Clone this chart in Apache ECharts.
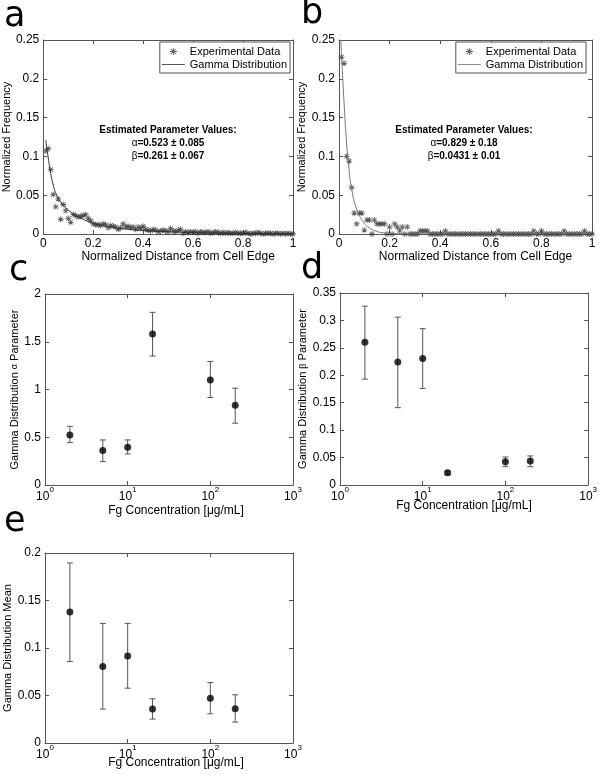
<!DOCTYPE html>
<html><head><meta charset="utf-8">
<script src="https://cdn.jsdelivr.net/npm/echarts@6/dist/echarts.min.js"></script>
<style>html,body{margin:0;padding:0;background:#fff}#c{width:600px;height:777px}</style>
</head><body><div id="c"></div>
<script>
// ---------- DATA ----------
const distX = [0.01,0.02,0.03,0.04,0.05,0.06,0.07,0.08,0.09,0.10,
0.11,0.12,0.13,0.14,0.15,0.16,0.17,0.18,0.19,0.20,
0.21,0.22,0.23,0.24,0.25,0.26,0.27,0.28,0.29,0.30,
0.31,0.32,0.33,0.34,0.35,0.36,0.37,0.38,0.39,0.40,
0.41,0.42,0.43,0.44,0.45,0.46,0.47,0.48,0.49,0.50,
0.51,0.52,0.53,0.54,0.55,0.56,0.57,0.58,0.59,0.60,
0.61,0.62,0.63,0.64,0.65,0.66,0.67,0.68,0.69,0.70,
0.71,0.72,0.73,0.74,0.75,0.76,0.77,0.78,0.79,0.80,
0.81,0.82,0.83,0.84,0.85,0.86,0.87,0.88,0.89,0.90,
0.91,0.92,0.93,0.94,0.95,0.96,0.97,0.98,0.99,1.00];

const expA = [0.107,0.110,0.083,0.051,0.035,0.045,0.019,0.038,0.030,0.020,
0.015,0.025,0.024,0.022,0.023,0.024,0.025,0.020,0.017,0.013,
0.012,0.012,0.011,0.013,0.012,0.008,0.011,0.010,0.009,0.006,
0.008,0.013,0.009,0.010,0.008,0.009,0.006,0.009,0.007,0.010,
0.006,0.005,0.004,0.006,0.005,0.003,0.004,0.005,0.004,0.003,
0.007,0.004,0.003,0.005,0.006,0.001,0.003,0.002,0.003,0.002,
0.003,0.001,0.003,0.002,0.002,0.003,0.001,0.002,0.003,0.002,
0.001,0.002,0.001,0.002,0.001,0.001,0.002,0.001,0.001,0.001,
0.002,0.001,0.000,0.001,0.001,0.002,0.001,0.000,0.001,0.001,
0.001,0.000,0.001,0.001,0.000,0.001,0.000,0.001,0.000,0.000];

const expB = [0.228,0.220,0.100,0.094,0.060,0.027,0.013,0.027,0.027,0.005,
0.018,0.018,0.000,0.018,0.013,0.013,0.013,0.013,0.000,0.009,
0.000,0.013,0.009,0.004,0.009,0.000,0.009,0.000,0.000,0.000,
0.000,0.004,0.004,0.004,0.004,0.000,0.000,0.000,0.000,0.000,
0.000,0.004,0.000,0.000,0.000,0.000,0.000,0.000,0.000,0.000,
0.000,0.000,0.000,0.000,0.000,0.000,0.000,0.000,0.000,0.000,
0.000,0.000,0.004,0.000,0.000,0.000,0.000,0.000,0.000,0.000,
0.000,0.000,0.000,0.000,0.000,0.000,0.004,0.000,0.000,0.004,
0.000,0.000,0.000,0.000,0.000,0.000,0.000,0.000,0.004,0.000,
0.000,0.000,0.000,0.000,0.000,0.000,0.004,0.000,0.000,0.000];

const fitAx = [0.01,0.02,0.03,0.04,0.05,0.07,0.10,0.13,0.16,0.20,0.25,0.30,0.40,0.50,0.60,0.70,0.80,0.90,1.00];
const fitAy = [0.121,0.098,0.078,0.063,0.053,0.041,0.031,0.024,0.019,0.014,0.010,0.0075,0.0045,0.0028,0.0017,0.0011,0.0007,0.0004,0.0003];
const fitBx = [0.007,0.013,0.020,0.028,0.037,0.050,0.070,0.097,0.120,0.143,0.170,0.200,0.300,0.500,1.000];
const fitBy = [0.250,0.212,0.169,0.126,0.092,0.058,0.032,0.015,0.008,0.004,0.0018,0.0007,0.0001,0.0,0.0];

const conc = [2,5,10,20,100,200];
const alphaMean = [0.524,0.360,0.395,1.580,1.100,0.836];
const alphaLow  = [0.444,0.245,0.325,1.350,0.916,0.647];
const alphaHigh = [0.615,0.472,0.472,1.808,1.294,1.014];
const betaMean = [0.260,0.224,0.2305,0.0224,0.0425,0.0437];
const betaLow  = [0.193,0.141,0.176,0.019,0.0334,0.0334];
const betaHigh = [0.326,0.306,0.285,0.0255,0.051,0.053];
const meanMean = [0.1378,0.0804,0.0916,0.0357,0.0472,0.0360];
const meanLow  = [0.0857,0.0357,0.0577,0.0252,0.0308,0.0220];
const meanHigh = [0.1895,0.1259,0.1259,0.0465,0.0636,0.0507];

const legendNames = ['Experimental Data','Gamma Distribution'];
const paramA = ['0.523 \u00b1 0.085','0.261 \u00b1 0.067'];
const paramB = ['0.829 \u00b1 0.18','0.0431 \u00b1 0.01'];

// ---------- CHART ----------
const FF = 'Liberation Sans, Arial, sans-serif';
const AX = '#555';
const STAR = 'path://M4.35,0H5.65V10H4.35Z M0,4.35H10V5.65H0Z M1.8,0.9L9.1,8.2L8.2,9.1L0.9,1.8Z M8.2,0.9L9.1,1.8L1.8,9.1L0.9,8.2Z';
const LINEICON = 'path://M0,0H40V1.4H0Z';

const grids = [
  {left:43, top:40, width:250, height:194},
  {left:339, top:40, width:253, height:194},
  {left:45, top:294, width:248, height:191},
  {left:340, top:293, width:250, height:192},
  {left:45, top:553, width:248, height:190}
];

function baseAxis(g, pos, showLabel){
  return {
    gridIndex:g, position:pos,
    axisLine:{show:true, onZero:false, lineStyle:{color:AX, width:1}},
    axisTick:{show:true, inside:true, length:4, lineStyle:{color:AX}},
    splitLine:{show:false},
    axisLabel:{show:showLabel, color:'#000', fontSize:12, fontFamily:FF, margin:4},
    nameLocation:'middle',
    nameTextStyle:{color:'#000', fontFamily:FF, fontSize:12}
  };
}
function xLin(g, pos, name, gap, shift){
  const a = baseAxis(g, pos, pos==='bottom');
  Object.assign(a, {type:'value', min:0, max:1, interval:0.2});
  if(pos==='bottom'){ a.name = name; a.nameGap = gap; a.nameTextStyle.padding = [0,0,0,shift]; }
  return a;
}
function xLog(g, pos, name, gap, shift, noMove){
  const a = baseAxis(g, pos, pos==='bottom');
  Object.assign(a, {type:'log', logBase:10, min:1, max:1000});
  a.axisLabel.margin = 1;
  a.axisLabel.formatter = v => '{b|10}{s|' + Math.round(Math.log10(v)) + '}';
  a.axisLabel.rich = {
    b:{fontSize:12, fontFamily:FF, color:'#000', verticalAlign:'bottom', lineHeight:17},
    s:{fontSize:8, fontFamily:FF, color:'#000', verticalAlign:'top', lineHeight:10}
  };
  if(pos==='bottom'){
    a.name = name; a.nameGap = gap; a.nameTextStyle.padding = [0,0,0,shift];
    if(noMove) a.nameMoveOverlap = false;
  }
  return a;
}
function yAx(g, pos, max, interval, name, gap){
  const a = baseAxis(g, pos, pos==='left');
  Object.assign(a, {type:'value', min:0, max:max, interval:interval});
  if(pos==='left'){
    a.name = name; a.nameGap = gap; a.nameRotate = 90;
    a.nameTextStyle = {color:'#000', fontFamily:FF, fontSize:11, rich:{s:{fontSize:9, fontFamily:FF, color:'#000'}}};
  }
  return a;
}

const xName1 = 'Normalized Distance from Cell Edge';
const xName2 = 'Fg Concentration [\u03bcg/mL]';

const xAxis = [
  xLin(0,'bottom',xName1,15,20), xLin(0,'top'),
  xLin(1,'bottom',xName1,15,20), xLin(1,'top'),
  xLog(2,'bottom',xName2,20,14,true), xLog(2,'top'),
  xLog(3,'bottom',xName2,15,0,true), xLog(3,'top'),
  xLog(4,'bottom',xName2,14,14,true), xLog(4,'top')
];
const yAxis = [
  yAx(0,'left',0.25,0.05,'Normalized Frequency',30), yAx(0,'right',0.25,0.05),
  yAx(1,'left',0.25,0.05,'Normalized Frequency',27), yAx(1,'right',0.25,0.05),
  yAx(2,'left',2,0.5,'Gamma Distribution {s|\u03b1} Parameter',22), yAx(2,'right',2,0.5),
  yAx(3,'left',0.35,0.05,'Gamma Distribution {s|\u03b2} Parameter',28), yAx(3,'right',0.35,0.05),
  yAx(4,'left',0.2,0.05,'Gamma Distribution Mean',29), yAx(4,'right',0.2,0.05)
];

function errSeries(axIdx, mean, low, high){
  return [{
    type:'custom', xAxisIndex:axIdx, yAxisIndex:axIdx,
    data: conc.map((c,i)=>[c, mean[i], low[i], high[i]]),
    encode:{x:0, y:[2,3]},
    renderItem:(params, api)=>{
      const top = api.coord([api.value(0), api.value(3)]);
      const bot = api.coord([api.value(0), api.value(2)]);
      const w = 3;
      const st = {stroke:'#555', lineWidth:1};
      return {type:'group', children:[
        {type:'line', shape:{x1:top[0], y1:top[1], x2:bot[0], y2:bot[1]}, style:st},
        {type:'line', shape:{x1:top[0]-w, y1:top[1], x2:top[0]+w, y2:top[1]}, style:st},
        {type:'line', shape:{x1:bot[0]-w, y1:bot[1], x2:bot[0]+w, y2:bot[1]}, style:st}
      ]};
    },
    z:2
  },{
    type:'scatter', xAxisIndex:axIdx, yAxisIndex:axIdx,
    data: conc.map((c,i)=>[c, mean[i]]),
    symbol:'circle', symbolSize:7, itemStyle:{color:'#000'}, z:3
  }];
}

const series = [
  {name:legendNames[0], type:'scatter', xAxisIndex:0, yAxisIndex:0, symbol:STAR, symbolSize:6,
   itemStyle:{color:'#333'}, data: distX.map((x,i)=>[x, expA[i]])},
  {name:legendNames[1], type:'line', xAxisIndex:0, yAxisIndex:0, symbol:'none', smooth:true,
   itemStyle:{color:'#333'}, lineStyle:{color:'#333', width:1}, data: fitAx.map((x,i)=>[x, fitAy[i]])},
  {name:legendNames[0], type:'scatter', xAxisIndex:2, yAxisIndex:2, symbol:STAR, symbolSize:6,
   itemStyle:{color:'#333'}, data: distX.map((x,i)=>[x, expB[i]])},
  {name:legendNames[1], type:'line', xAxisIndex:2, yAxisIndex:2, symbol:'none', smooth:true,
   itemStyle:{color:'#777'}, lineStyle:{color:'#777', width:1}, data: fitBx.map((x,i)=>[x, fitBy[i]])},
  ...errSeries(4, alphaMean, alphaLow, alphaHigh),
  ...errSeries(6, betaMean, betaLow, betaHigh),
  ...errSeries(8, meanMean, meanLow, meanHigh)
];

function legendAt(right, lineColor){
  return {
    orient:'vertical', right:right, top:42, padding:[4,3,3,2], itemGap:2,
    itemWidth:23, itemHeight:7, selectedMode:false,
    backgroundColor:'#fff', borderColor:AX, borderWidth:1, borderRadius:0,
    textStyle:{color:'#000', fontFamily:FF, fontSize:11},
    data:[
      {name:legendNames[0], icon:STAR, itemStyle:{color:'#333'}},
      {name:legendNames[1], icon:LINEICON, itemStyle:{color:lineColor}}
    ]
  };
}

function annot(cx, vals){
  const base = {fill:'#000', font:'bold 10px ' + FF, align:'center', verticalAlign:'middle'};
  return [
    {type:'text', x:cx, y:130, style:Object.assign({text:'Estimated Parameter Values:'}, base)},
    {type:'text', x:cx, y:143, style:Object.assign({text:'{n|\u03b1}=' + vals[0], rich:{n:{font:'10px ' + FF, fill:'#000'}}}, base)},
    {type:'text', x:cx, y:156, style:Object.assign({text:'{n|\u03b2}=' + vals[1], rich:{n:{font:'10px ' + FF, fill:'#000'}}}, base)}
  ];
}
function letter(t, x, y){
  return {type:'text', x:x, y:y, style:{text:t, fill:'#000', font:'35px DejaVu Sans', align:'left', verticalAlign:'middle'}};
}

const option = {
  animation:false,
  backgroundColor:'#fff',
  grid: grids.map(g=>Object.assign({show:false, containLabel:false}, g)),
  xAxis, yAxis, series,
  legend:[legendAt(310,'#333'), legendAt(14,'#777')],
  graphic:[
    ...annot(168, paramA), ...annot(464, paramB),
    letter('a', 4, 17), letter('b', 301, 14),
    letter('c', 9, 271), letter('d', 301, 269), letter('e', 4, 522)
  ]
};
const chart = echarts.init(document.getElementById('c'), null, {renderer:'canvas'});
chart.setOption(option);
</script></body></html>
